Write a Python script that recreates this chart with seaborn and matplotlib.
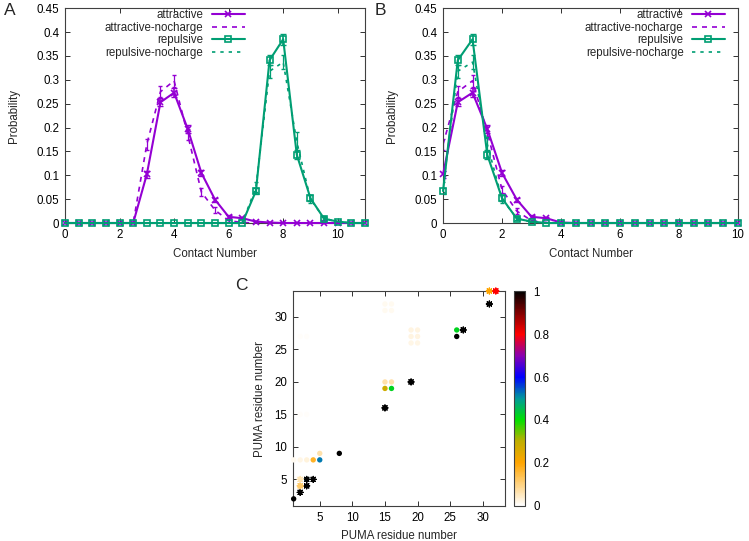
import numpy as np
import pandas as pd
import seaborn as sns
import matplotlib.pyplot as plt
from matplotlib.colors import LinearSegmentedColormap, Normalize
from matplotlib.cm import ScalarMappable
from matplotlib.lines import Line2D
from matplotlib.ticker import MultipleLocator

# ---- panel A: contact number distributions ----
contact_a = [0, 0.5, 1, 1.5, 2, 2.5, 3, 3.5, 4, 4.5, 5, 5.5, 6, 6.5, 7, 7.5,
             8, 8.5, 9, 9.5, 10, 10.5, 11]
attr_a = [0, 0, 0, 0, 0, 0, 0.102, 0.253, 0.273, 0.197, 0.105, 0.049, 0.013,
          0.010, 0.003, 0.001, 0, 0, 0, 0, 0, 0, 0]
attr_err_a = [0, 0, 0, 0, 0, 0, 0.007, 0.008, 0.009, 0.008, 0.006, 0.004,
              0.003, 0.002, 0.001, 0.001, 0, 0, 0, 0, 0, 0, 0]
attr_nc_a = [0, 0, 0, 0, 0, 0, 0.165, 0.275, 0.298, 0.185, 0.065, 0.027,
             0.005, 0.001, 0, 0, 0, 0, 0, 0, 0, 0, 0]
attr_nc_err_a = [0, 0, 0, 0, 0, 0, 0.012, 0.012, 0.013, 0.012, 0.008, 0.006,
                 0.002, 0.001, 0, 0, 0, 0, 0, 0, 0, 0, 0]
rep_a = [0, 0, 0, 0, 0, 0, 0, 0, 0, 0, 0, 0, 0, 0, 0.067, 0.341, 0.385,
         0.143, 0.052, 0.009, 0.003, 0, 0]
rep_err_a = [0, 0, 0, 0, 0, 0, 0, 0, 0, 0, 0, 0, 0, 0, 0.007, 0.010, 0.012,
             0.009, 0.006, 0.003, 0.001, 0, 0]
rep_nc_a = [0, 0, 0, 0, 0, 0, 0, 0, 0, 0, 0, 0, 0, 0, 0.075, 0.318, 0.337,
            0.170, 0.050, 0.010, 0.002, 0, 0]
rep_nc_err_a = [0, 0, 0, 0, 0, 0, 0, 0, 0, 0, 0, 0, 0, 0, 0.010, 0.014, 0.015,
                0.020, 0.008, 0.004, 0.001, 0, 0]

# ---- panel B ----
contact_b = [0, 0.5, 1, 1.5, 2, 2.5, 3, 3.5, 4, 4.5, 5, 5.5, 6, 6.5, 7, 7.5,
             8, 8.5, 9, 9.5, 10]
attr_b = [0.102, 0.253, 0.273, 0.197, 0.105, 0.049, 0.013, 0.010, 0.001,
          0, 0, 0, 0, 0, 0, 0, 0, 0, 0, 0, 0]
attr_err_b = [0.007, 0.008, 0.009, 0.008, 0.006, 0.004, 0.003, 0.002, 0.001,
              0, 0, 0, 0, 0, 0, 0, 0, 0, 0, 0, 0]
attr_nc_b = [0.165, 0.275, 0.298, 0.190, 0.070, 0.025, 0.005, 0.001,
             0, 0, 0, 0, 0, 0, 0, 0, 0, 0, 0, 0, 0]
attr_nc_err_b = [0.012, 0.012, 0.013, 0.012, 0.008, 0.006, 0.002, 0.001,
                 0, 0, 0, 0, 0, 0, 0, 0, 0, 0, 0, 0, 0]
rep_b = [0.067, 0.341, 0.385, 0.143, 0.052, 0.009, 0.003, 0,
         0, 0, 0, 0, 0, 0, 0, 0, 0, 0, 0, 0, 0]
rep_err_b = [0.007, 0.010, 0.012, 0.009, 0.006, 0.003, 0.001, 0,
             0, 0, 0, 0, 0, 0, 0, 0, 0, 0, 0, 0, 0]
rep_nc_b = [0.075, 0.318, 0.337, 0.165, 0.050, 0.010, 0.002, 0,
            0, 0, 0, 0, 0, 0, 0, 0, 0, 0, 0, 0, 0]
rep_nc_err_b = [0.010, 0.014, 0.015, 0.015, 0.008, 0.004, 0.001, 0,
                0, 0, 0, 0, 0, 0, 0, 0, 0, 0, 0, 0, 0]

# ---- panel C: contact map (circles and stars) ----
circ_x = [1, 8, 26, 26, 16, 15, 15, 16, 4, 5, 5, 3, 2, 1, 3,
          19, 20, 19, 20, 19, 20, 15, 16, 15, 16, 2, 3, 2, 3]
circ_y = [2, 9, 27, 28, 19, 19, 20, 20, 8, 8, 9, 8, 8, 8, 5,
          26, 26, 27, 27, 28, 28, 31, 31, 32, 32, 15, 15, 27, 27]
circ_v = [1.0, 1.0, 1.0, 0.42, 0.42, 0.28, 0.07, 0.07, 0.17, 0.52, 0.07,
          0.03, 0.02, 0.015, 0.5,
          0.02, 0.02, 0.025, 0.025, 0.025, 0.025, 0.012, 0.012, 0.012, 0.012,
          0.006, 0.006, 0.006, 0.006]
star_x = [2, 3, 3, 4, 2, 2, 15, 19, 27, 31, 31, 32]
star_y = [3, 4, 5, 5, 4, 5, 16, 20, 28, 32, 34, 34]
star_v = [1.0, 1.0, 1.0, 1.0, 0.12, 0.06, 1.0, 1.0, 1.0, 1.0, 0.2, 0.8]

PURPLE = "#9400D3"
GREEN = "#009E73"
FS = 8.3

sns.set_theme(style="ticks")
plt.rcParams["font.family"] = ["Liberation Sans", "DejaVu Sans"]
plt.rcParams["axes.edgecolor"] = "#404040"
plt.rcParams["axes.linewidth"] = 0.8

fig = plt.figure(figsize=(7.49, 5.41), dpi=100)
ax_a = fig.add_axes([0.0868, 0.5878, 0.4005, 0.397])
ax_b = fig.add_axes([0.5915, 0.5878, 0.3938, 0.397])
ax_c = fig.add_axes([0.3912, 0.0647, 0.2830, 0.3974])
cax = fig.add_axes([0.6862, 0.0647, 0.0150, 0.3974])


def style_axis(ax):
    ax.tick_params(direction="in", length=3.5, width=0.7, top=True, right=True,
                   labelsize=FS, colors="#303030", labelcolor="black", pad=4)
    for s in ax.spines.values():
        s.set_color("#404040")


def draw_dist(ax, x, attr, attr_e, attr_nc, attr_nc_e, rep, rep_e, rep_nc, rep_nc_e):
    # dashed no-charge curves first
    ax.errorbar(x, attr_nc, yerr=attr_nc_e, fmt="none", ecolor=PURPLE,
                elinewidth=0.9, capsize=1.5, linestyle=(0, (2, 2)))
    sns.lineplot(x=x, y=attr_nc, ax=ax, color=PURPLE, lw=1.2,
                 linestyle=(0, (3, 3)), sort=False)
    ax.errorbar(x, rep_nc, yerr=rep_nc_e, fmt="none", ecolor=GREEN,
                elinewidth=0.9, capsize=1.5)
    sns.lineplot(x=x, y=rep_nc, ax=ax, color=GREEN, lw=1.2,
                 linestyle=(0, (2, 3)), sort=False)
    # solid curves with markers
    ax.errorbar(x, attr, yerr=attr_e, fmt="none", ecolor=PURPLE,
                elinewidth=1.2, capsize=2)
    sns.lineplot(x=x, y=attr, ax=ax, color=PURPLE, lw=1.5, marker="x",
                 markersize=4.5, markeredgecolor=PURPLE, markeredgewidth=1.2,
                 sort=False, clip_on=False, zorder=4)
    ax.errorbar(x, rep, yerr=rep_e, fmt="none", ecolor=GREEN,
                elinewidth=1.2, capsize=2)
    sns.lineplot(x=x, y=rep, ax=ax, color=GREEN, lw=1.5, marker="s",
                 markersize=5, markerfacecolor="none", markeredgecolor=GREEN,
                 markeredgewidth=1.2, sort=False, clip_on=False, zorder=5)

    ax.set_ylim(0, 0.45)
    ax.yaxis.set_major_locator(MultipleLocator(0.05))
    ax.yaxis.set_major_formatter(plt.FuncFormatter(lambda v, p: "%g" % round(v, 3)))
    ax.xaxis.set_major_locator(MultipleLocator(2))
    ax.set_xlabel("Contact Number", fontsize=FS, labelpad=5)
    ax.set_ylabel("Probability", fontsize=FS, labelpad=12)
    style_axis(ax)

    handles = [
        Line2D([], [], color=PURPLE, lw=1.5, marker="x", markersize=4.5, mew=1.2),
        Line2D([], [], color=PURPLE, lw=1.2, linestyle=(0, (3, 3))),
        Line2D([], [], color=GREEN, lw=1.5, marker="s", markersize=5, mfc="none", mew=1.2),
        Line2D([], [], color=GREEN, lw=1.2, linestyle=(0, (2, 3))),
    ]
    labels = ["attractive", "attractive-nocharge", "repulsive", "repulsive-nocharge"]
    return handles, labels


h, l = draw_dist(ax_a, contact_a, attr_a, attr_err_a, attr_nc_a, attr_nc_err_a,
                 rep_a, rep_err_a, rep_nc_a, rep_nc_err_a)
ax_a.set_xlim(0, 11)
ax_a.legend(h, l, loc="upper right", bbox_to_anchor=(0.60, 0.995), frameon=False,
            markerfirst=False, fontsize=FS, handlelength=2.9, handletextpad=0.7,
            labelspacing=0.05, borderpad=0, borderaxespad=0)

h, l = draw_dist(ax_b, contact_b, attr_b, attr_err_b, attr_nc_b, attr_nc_err_b,
                 rep_b, rep_err_b, rep_nc_b, rep_nc_err_b)
ax_b.set_xlim(0, 10)
ax_b.legend(h, l, loc="upper right", bbox_to_anchor=(0.956, 0.995), frameon=False,
            markerfirst=False, fontsize=FS, handlelength=2.9, handletextpad=0.7,
            labelspacing=0.05, borderpad=0, borderaxespad=0)

# ---- panel C ----
cmap = LinearSegmentedColormap.from_list("gp", [
    (0.0, "#ffffff"), (0.2, "#ffa500"), (0.3, "#c0ae00"), (0.4, "#00e000"),
    (0.5, "#009a9a"), (0.6, "#0000ff"), (0.7, "#8a00b0"), (0.8, "#ff0000"),
    (0.9, "#800000"), (1.0, "#000000")])
norm = Normalize(0, 1)

circ_df = pd.DataFrame({"x": circ_x, "y": circ_y, "v": circ_v})
star_df = pd.DataFrame({"x": star_x, "y": star_y, "v": star_v})
sns.scatterplot(data=circ_df.sort_values("v"), x="x", y="y", hue="v", palette=cmap,
                hue_norm=norm, marker="o", s=15, linewidth=0, legend=False,
                ax=ax_c, clip_on=False, zorder=3)
ax_c.scatter(star_df["x"], star_df["y"], c=star_df["v"], cmap=cmap, norm=norm,
             marker=(8, 2, 0), s=18, linewidths=0.9, clip_on=False, zorder=4)

ax_c.xaxis.set_major_locator(MultipleLocator(5))
ax_c.yaxis.set_major_locator(MultipleLocator(5))
ax_c.set_xlim(0.9, 33.4)
ax_c.set_ylim(0.9, 34)
ax_c.set_xlabel("PUMA residue number", fontsize=FS, labelpad=5)
ax_c.set_ylabel("PUMA residue number", fontsize=FS, labelpad=6)
style_axis(ax_c)

cb = fig.colorbar(ScalarMappable(norm=norm, cmap=cmap), cax=cax)
cb.set_ticks([0, 0.2, 0.4, 0.6, 0.8, 1])
cb.set_ticklabels(["0", "0.2", "0.4", "0.6", "0.8", "1"])
cb.outline.set_edgecolor("#404040")
cb.outline.set_linewidth(0.8)
cax.tick_params(direction="in", length=3, width=0.7, labelsize=FS, pad=6,
                left=True, right=True, colors="#303030", labelcolor="black")

fig.text(0.005, 1 - 15 / 541, "A", fontsize=12.5, va="baseline")
fig.text(0.500, 1 - 15 / 541, "B", fontsize=12.5, va="baseline")
fig.text(0.314, 1 - 290 / 541, "C", fontsize=12.5, va="baseline")

fig.savefig("out.png", dpi=100)
